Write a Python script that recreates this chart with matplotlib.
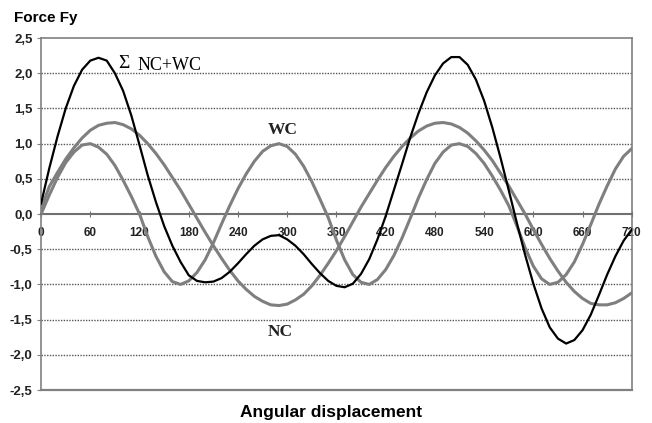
import matplotlib
matplotlib.use("Agg")
import matplotlib.pyplot as plt
import numpy as np

# angular displacement, degrees (10 deg steps)
angle = list(range(0, 721, 10))

# WC force component
wc = [0.00, 0.27, 0.52, 0.73, 0.88, 0.98, 1.00, 0.95, 0.85, 0.69,
      0.48, 0.25, 0.00, -0.32, -0.60, -0.82, -0.96, -1.00, -0.95, -0.83,
      -0.65, -0.41, -0.14, 0.12, 0.36, 0.57, 0.75, 0.89, 0.97, 1.00,
      0.96, 0.85, 0.68, 0.46, 0.21, -0.05, -0.37, -0.65, -0.86, -0.97,
      -1.00, -0.93, -0.79, -0.59, -0.34, -0.06, 0.23, 0.49, 0.72, 0.88,
      0.98, 1.00, 0.96, 0.86, 0.72, 0.54, 0.34, 0.12, -0.17, -0.48,
      -0.74, -0.92, -1.00, -0.97, -0.86, -0.68, -0.43, -0.15, 0.14, 0.40,
      0.64, 0.82, 0.93]

# NC force component
nc = [0.08, 0.39, 0.59, 0.78, 0.94, 1.08, 1.19, 1.26, 1.29, 1.30,
      1.27, 1.21, 1.12, 1.00, 0.86, 0.70, 0.52, 0.34, 0.14, -0.06,
      -0.26, -0.45, -0.63, -0.80, -0.95, -1.07, -1.17, -1.24, -1.29, -1.30,
      -1.28, -1.22, -1.14, -1.02, -0.87, -0.70, -0.52, -0.32, -0.11, 0.10,
      0.29, 0.48, 0.66, 0.82, 0.96, 1.08, 1.18, 1.25, 1.29, 1.30,
      1.28, 1.23, 1.15, 1.04, 0.91, 0.76, 0.58, 0.40, 0.20, 0.00,
      -0.22, -0.43, -0.63, -0.81, -0.97, -1.10, -1.20, -1.27, -1.29, -1.29,
      -1.26, -1.20, -1.12]

# sum NC+WC (black curve)
total = [0.15, 0.65, 1.10, 1.50, 1.82, 2.05, 2.18, 2.22, 2.18, 2.00,
         1.75, 1.40, 0.98, 0.55, 0.17, -0.17, -0.45, -0.68, -0.87, -0.95,
         -0.97, -0.96, -0.91, -0.82, -0.70, -0.57, -0.45, -0.36, -0.31, -0.30,
         -0.36, -0.45, -0.57, -0.71, -0.84, -0.95, -1.02, -1.04, -0.99, -0.85,
         -0.64, -0.36, -0.03, 0.34, 0.71, 1.09, 1.43, 1.73, 1.97, 2.14,
         2.23, 2.23, 2.12, 1.91, 1.61, 1.23, 0.80, 0.34, -0.13, -0.58,
         -0.99, -1.34, -1.61, -1.77, -1.84, -1.79, -1.65, -1.43, -1.15, -0.86,
         -0.60, -0.38, -0.22]

xticks = list(range(0, 721, 60))
yticks = [-2.5, -2.0, -1.5, -1.0, -0.5, 0.0, 0.5, 1.0, 1.5, 2.0, 2.5]
ylabels = [f"{v:.1f}".replace(".", ",") for v in yticks]

plt.rcParams['font.family'] = ['Liberation Sans', 'DejaVu Sans']

fig = plt.figure(figsize=(6.52, 4.23), dpi=100)
ax = fig.add_axes([0.063, 0.078, 0.906, 0.832])

frame = '#808080'
for g in [-2.0, -1.5, -1.0, -0.5, 0.5, 1.0, 1.5, 2.0]:
    ax.axhline(g, color='#555555', lw=1.0, ls=(0, (1, 1)), zorder=1)

ax.plot(angle, nc, color='#7f7f7f', lw=2.2, zorder=3)
ax.plot(angle, wc, color='#7f7f7f', lw=2.2, zorder=3)
ax.plot(angle, total, color='black', lw=1.6, zorder=4)

ax.set_xlim(0, 720)
ax.set_ylim(-2.5, 2.5)

for s in ['top', 'right', 'left']:
    ax.spines[s].set_color(frame)
    ax.spines[s].set_linewidth(1.2)
ax.spines['bottom'].set_position(('data', 0))
ax.spines['bottom'].set_color('#707070')
ax.spines['bottom'].set_linewidth(1.5)
ax.axhline(-2.5, color=frame, lw=1.6, clip_on=False, zorder=5)

ax.set_xticks(xticks)
ax.set_xticklabels([str(t) for t in xticks], fontsize=8.5, fontweight='bold',
                   color='#222222')
ax.set_yticks(yticks)
ax.set_yticklabels(ylabels, fontsize=9.5, fontweight='bold', color='#222222')
ax.tick_params(axis='x', direction='inout', length=4, color='#707070', pad=7)
ax.tick_params(axis='y', direction='out', length=3, color=frame, pad=3)
for lab in ax.get_xticklabels():
    lab.set_zorder(6)

ax.text(93.5, 2.14, 'Σ', fontsize=14, family='Liberation Serif',
        ha='left', va='center')
ax.text(117, 2.11, 'NC+WC', fontsize=13, family='Liberation Serif',
        ha='left', va='center')
ax.text(294, 1.20, 'WC', fontsize=12.5, family='Liberation Serif',
        fontweight='bold', ha='center', va='center', color='#222222')
ax.text(291, -1.67, 'NC', fontsize=12.5, family='Liberation Serif',
        fontweight='bold', ha='center', va='center', color='#222222')

fig.text(0.021, 0.957, 'Force Fy', fontsize=11, fontweight='bold',
         ha='left', va='center')
fig.text(0.508, 0.026, 'Angular displacement', fontsize=12.5, fontweight='bold',
         ha='center', va='center')

fig.savefig('out.png', dpi=100)
